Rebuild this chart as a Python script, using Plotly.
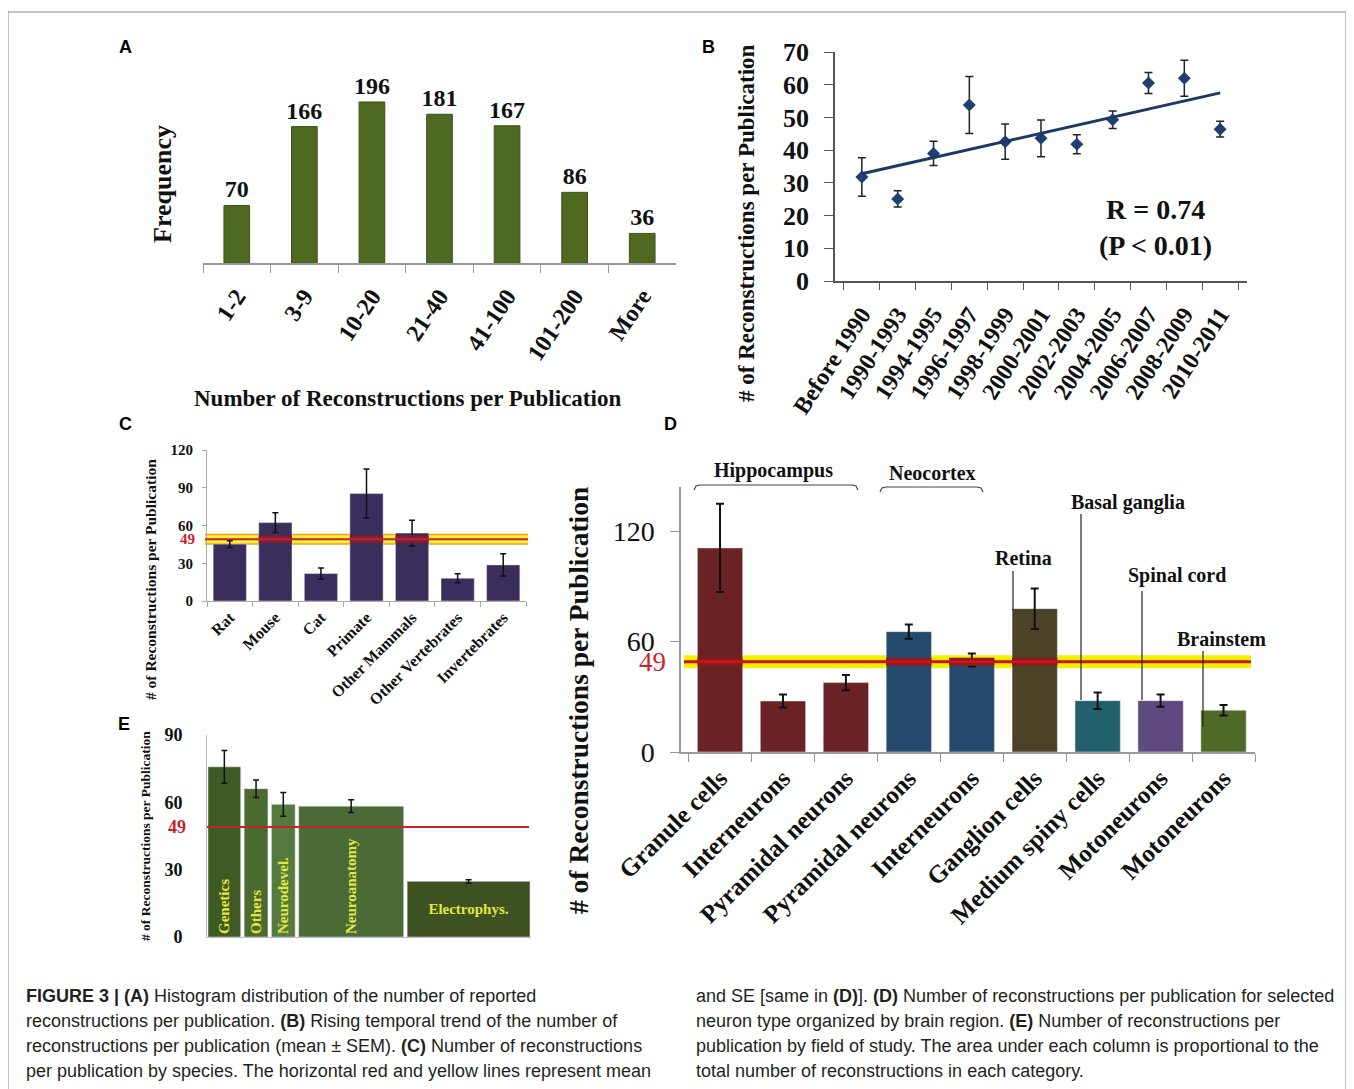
import plotly.graph_objects as go

W, H = 1346, 1081          # figure size (page body adds an 8px margin)
OFF = 8
def X(p): return (p - OFF) / W
def Y(p): return 1 - (p - OFF) / H

SERIF = "Liberation Serif"
SANS = "Liberation Sans"

# ---------------- data ----------------
# Panel A
a_bins = ["1-2", "3-9", "10-20", "21-40", "41-100", "101-200", "More"]
a_freq = [70, 166, 196, 181, 167, 86, 36]

# Panel B
b_periods = ["Before 1990", "1990-1993", "1994-1995", "1996-1997", "1998-1999", "2000-2001",
             "2002-2003", "2004-2005", "2006-2007", "2008-2009", "2010-2011"]
b_mean = [31.8, 25.1, 39.0, 53.8, 42.6, 43.6, 41.8, 49.3, 60.5, 62.0, 46.4]
b_sem = [5.9, 2.5, 3.7, 8.7, 5.4, 5.6, 2.9, 2.7, 3.2, 5.5, 2.4]
b_trend = [32.8, 57.5]          # fitted trend line at first and last period
b_stats = ["R = 0.74", "(P < 0.01)"]

# Panel C
c_species = ["Rat", "Mouse", "Cat", "Primate", "Other Mammals", "Other Vertebrates", "Invertebrates"]
c_mean = [45.2, 62.3, 21.8, 85.4, 54.0, 18.1, 28.7]
c_se = [2.7, 7.9, 4.5, 19.5, 10.2, 3.6, 8.9]

overall_mean = 49

# Panel D
d_types = ["Granule cells", "Interneurons", "Pyramidal neurons", "Pyramidal neurons", "Interneurons",
           "Ganglion cells", "Medium spiny cells", "Motoneurons", "Motoneurons"]
d_region = ["Hippocampus", "Hippocampus", "Hippocampus", "Neocortex", "Neocortex",
            "Retina", "Basal ganglia", "Spinal cord", "Brainstem"]
d_mean = [110.9, 27.7, 37.7, 65.4, 50.0, 77.9, 27.9, 27.9, 22.7]
d_se = [24.0, 3.5, 4.2, 3.9, 3.5, 11.0, 4.5, 3.3, 2.8]
d_region_colors = {"Hippocampus": "#6a2224", "Neocortex": "#264a6e", "Retina": "#4b4228",
                   "Basal ganglia": "#22606b", "Spinal cord": "#5f4a80", "Brainstem": "#4f6a26"}

# Panel E
e_fields = ["Genetics", "Others", "Neurodevel.", "Neuroanatomy", "Electrophys."]
e_mean = [75.8, 66.1, 59.1, 58.3, 24.8]
e_se = [7.3, 3.9, 5.3, 2.8, 0.7]
e_pubs = [33, 24, 24, 106, 124]   # relative number of publications (column widths)
e_colors = ["#3f5a22", "#4a6a30", "#557a3e", "#4a6b36", "#3d5220"]

# ---------------- figure ----------------
fig = go.Figure()

# A
A_W = 0.38
fig.add_trace(go.Bar(
    x=a_bins, y=a_freq, xaxis="x", yaxis="y", width=A_W,
    marker=dict(color="#4e6a20", line=dict(color="#3c5218", width=1)),
    text=[str(v) for v in a_freq], textposition="outside", cliponaxis=False, constraintext="none",
    textfont=dict(family=SERIF, size=24, color="#111", weight="bold"), showlegend=False))

# B
fig.add_trace(go.Scatter(
    x=b_periods, y=b_mean, mode="markers", xaxis="x2", yaxis="y2",
    marker=dict(symbol="diamond", size=10, color="#1f3f73"),
    error_y=dict(type="data", array=b_sem, color="#222", thickness=1.5, width=4),
    showlegend=False))
fig.add_trace(go.Scatter(
    x=[b_periods[0], b_periods[-1]], y=b_trend, mode="lines", xaxis="x2", yaxis="y2",
    line=dict(color="#1e3864", width=3), showlegend=False))

# C
C_W = 0.73
fig.add_trace(go.Bar(
    x=c_species, y=c_mean, xaxis="x3", yaxis="y3", width=C_W,
    marker=dict(color="#3a2f5c"),
    error_y=dict(type="data", array=c_se, color="#111", thickness=1.5, width=3),
    showlegend=False))

# D
D_W = 0.72
d_x = list(range(len(d_types)))
fig.add_trace(go.Bar(
    x=d_x, y=d_mean, xaxis="x4", yaxis="y4", width=D_W,
    marker=dict(color=[d_region_colors[r] for r in d_region]),
    error_y=dict(type="data", array=d_se, color="#111", thickness=2, width=4),
    showlegend=False))

# E (variable width columns)
gap = 3.5
e_x = []
start = 1.0
for w in e_pubs:
    e_x.append(start + w / 2)
    start += w + gap
e_total = start - gap + 1

fig.add_trace(go.Bar(
    x=e_x[:4], y=e_mean[:4], width=e_pubs[:4], xaxis="x5", yaxis="y5",
    marker=dict(color=e_colors[:4]),
    error_y=dict(type="data", array=e_se[:4], color="#111", thickness=1.5, width=3),
    text=e_fields[:4], textposition="inside", textangle=-90, insidetextanchor="start",
    constraintext="none",
    textfont=dict(family=SERIF, size=15, color="#e6e640", weight="bold"), showlegend=False))
fig.add_trace(go.Bar(
    x=e_x[4:], y=e_mean[4:], width=e_pubs[4:], xaxis="x5", yaxis="y5",
    marker=dict(color=e_colors[4:]),
    error_y=dict(type="data", array=e_se[4:], color="#111", thickness=1.5, width=3),
    text=e_fields[4:], textposition="inside", textangle=0, insidetextanchor="middle",
    constraintext="none",
    textfont=dict(family=SERIF, size=15, color="#e6e640", weight="bold"), showlegend=False))

# ---------------- axes ----------------
noaxis = dict(showgrid=False, zeroline=False, fixedrange=True, automargin=False)

layout_axes = dict(
    xaxis=dict(domain=[X(203), X(676)], anchor="y", type="category", categoryorder="array",
               categoryarray=a_bins, showline=True, linecolor="#999",
               linewidth=1.5, ticks="outside", tickson="boundaries", ticklen=8, tickcolor="#999",
               ticklabelstandoff=8,
               tickangle=-56, tickfont=dict(family=SERIF, size=24, color="#111", weight="bold"), **noaxis),
    yaxis=dict(domain=[Y(263), Y(74)], anchor="x", range=[0, 230], visible=False, **noaxis),

    xaxis2=dict(domain=[X(835), X(1247)], anchor="y2", type="category", categoryorder="array",
                categoryarray=b_periods, showline=True, linecolor="#555",
                linewidth=1.5, ticks="outside", tickson="boundaries", ticklen=7, tickcolor="#555",
                ticklabelstandoff=8,
                tickangle=-57, tickfont=dict(family=SERIF, size=24, color="#111", weight="bold"), **noaxis),
    yaxis2=dict(domain=[Y(281), Y(52)], anchor="x2", range=[0, 70], dtick=10, showline=True,
                linecolor="#555", linewidth=1.5, ticks="outside", ticklen=9, tickcolor="#555",
                ticklabelstandoff=10,
                tickfont=dict(family=SERIF, size=26, color="#111", weight="bold"), **noaxis),

    xaxis3=dict(domain=[X(207), X(526)], anchor="y3", type="category", categoryorder="array",
                categoryarray=c_species, showline=True, linecolor="#aaa",
                ticks="outside", tickson="boundaries", ticklen=5, tickcolor="#aaa",
                tickangle=-45, tickfont=dict(family=SERIF, size=16, color="#111", weight="bold"), **noaxis),
    yaxis3=dict(domain=[Y(601), Y(450)], anchor="x3", range=[0, 120], tickvals=[0, 30, 60, 90, 120],
                showline=True, linecolor="#aaa", ticks="outside", ticklen=4, tickcolor="#aaa",
                ticklabelstandoff=6,
                tickfont=dict(family=SERIF, size=15, color="#111", weight="bold"), **noaxis),

    xaxis4=dict(domain=[X(681), X(1255)], anchor="y4", range=[-0.62, len(d_types) - 0.5],
                tickmode="array", tickvals=d_x, ticktext=d_types, ticks="",
                minor=dict(tickmode="array", tickvals=[i - 0.5 for i in range(len(d_types) + 1)],
                           ticks="outside", ticklen=8, tickcolor="#999"),
                showline=True, linecolor="#999", linewidth=1.5,
                tickangle=-45, tickfont=dict(family=SERIF, size=25, color="#111", weight="bold"), **noaxis),
    yaxis4=dict(domain=[Y(752), Y(487)], anchor="x4", range=[0, 144], tickvals=[0, 60, 120],
                showline=True, linecolor="#999", linewidth=1.5, ticks="outside", ticklen=9, tickcolor="#999",
                ticklabelstandoff=10,
                tickfont=dict(family=SERIF, size=28, color="#111"), **noaxis),

    xaxis5=dict(domain=[X(207), X(531)], anchor="y5", range=[0, e_total], showline=True, linecolor="#bbb",
                showticklabels=False, ticks="", **noaxis),
    yaxis5=dict(domain=[Y(937), Y(735)], anchor="x5", range=[0, 90], tickvals=[0, 30, 60, 90],
                showline=True, linecolor="#bbb", ticks="", ticklabelstandoff=20,
                tickfont=dict(family=SERIF, size=18, color="#111", weight="bold"), **noaxis),
)

# ---------------- shapes ----------------
shapes = []
# outer frame
shapes.append(dict(type="rect", xref="paper", yref="paper", x0=X(8), x1=X(1346), y0=Y(1100), y1=Y(12),
                   line=dict(color="#888", width=1)))

def hline(yref, x0, x1, color, width, layer):
    shapes.append(dict(type="line", xref="paper", yref=yref, x0=X(x0), x1=X(x1),
                       y0=overall_mean, y1=overall_mean, line=dict(color=color, width=width), layer=layer))

# C mean band: yellow glow behind bars, dark red where bars cross it, red line on top
hline("y3", 205, 528, "#e9a21b", 11, "below")
hline("y3", 205, 528, "#fff03a", 8, "below")
for i, v in enumerate(c_mean):
    if v > overall_mean:
        shapes.append(dict(type="line", xref="x3", yref="y3", x0=i - C_W / 2, x1=i + C_W / 2,
                           y0=overall_mean, y1=overall_mean, line=dict(color="#7a1f35", width=8)))
hline("y3", 205, 528, "#c4222c", 2, "above")

# D mean band
hline("y4", 684, 1251, "#f6f000", 13, "below")
for i, v in enumerate(d_mean):
    if v > overall_mean:
        shapes.append(dict(type="line", xref="x4", yref="y4", x0=i - D_W / 2, x1=i + D_W / 2,
                           y0=overall_mean, y1=overall_mean, line=dict(color="#8e1a1c", width=8)))
hline("y4", 684, 1251, "#c4161c", 3, "above")

# E mean line
hline("y5", 207, 529, "#c4222c", 2, "above")


def ppath(points, closed=False):
    s = "M " + " L ".join(f"{X(x):.5f},{Y(y):.5f}" for x, y in points)
    return s + (" Z" if closed else "")

# D brackets
for x0, x1, yb in [(694, 858, 485), (880, 983, 487)]:
    pts = [(x0, yb + 5), (x0 + 2, yb + 1), (x0 + 6, yb), (x1 - 6, yb), (x1 - 2, yb + 1), (x1, yb + 5)]
    shapes.append(dict(type="path", xref="paper", yref="paper", path=ppath(pts),
                       line=dict(color="#444", width=1.2)))
# D callout lines
for x, ytop, ybot in [(1013, 571, 610), (1081, 514, 700), (1142, 591, 700), (1203, 651, 727)]:
    shapes.append(dict(type="line", xref="paper", yref="paper", x0=X(x), x1=X(x), y0=Y(ytop), y1=Y(ybot),
                       line=dict(color="#222", width=1.2)))

# ---------------- annotations ----------------
ann = []
def text(x, y, s, size, family=SERIF, bold=False, color="#111", angle=0, xanchor="center", yanchor="middle"):
    ann.append(dict(x=X(x), y=Y(y), xref="paper", yref="paper", text=s, showarrow=False,
                    textangle=angle, xanchor=xanchor, yanchor=yanchor,
                    font=dict(family=family, size=size, color=color, weight="bold" if bold else "normal")))

# panel letters
for lab, x, y in [("A", 125, 47), ("B", 708, 47), ("C", 125, 424), ("D", 670, 424), ("E", 124, 724)]:
    text(x, y, lab, 18, family=SANS, bold=True, color="#000")

# axis titles
text(163, 184, "Frequency", 26, bold=True, angle=-90)
text(407, 399, "Number of Reconstructions per Publication", 23, bold=True)
text(746, 223, "# of Reconstructions per Publication", 23, bold=True, angle=-90)
text(150, 580, "# of Reconstructions per Publication", 15.5, bold=True, angle=-90)
text(578, 701, "# of Reconstructions per Publication", 27.5, bold=True, angle=-90)
text(145, 836, "# of Reconstructions per Publication", 13.5, bold=True, angle=-90)

# B stats
text(1155, 209, b_stats[0], 28, bold=True)
text(1155, 245, b_stats[1], 28, bold=True)

# D region labels
text(773, 470, "Hippocampus", 20, bold=True)
text(932, 473, "Neocortex", 20, bold=True)
text(1023, 558, "Retina", 20, bold=True)
text(1128, 502, "Basal ganglia", 20, bold=True)
text(1177, 575, "Spinal cord", 20, bold=True)
text(1221, 639, "Brainstem", 20, bold=True)

# mean labels "49"
ann.append(dict(x=X(197), y=overall_mean, xref="paper", yref="y3", text=str(overall_mean), showarrow=False,
                xanchor="right", font=dict(family=SERIF, size=15, color="#c4222c", weight="bold")))
ann.append(dict(x=X(668), y=overall_mean, xref="paper", yref="y4", text=str(overall_mean), showarrow=False,
                xanchor="right", font=dict(family=SERIF, size=27, color="#d21f26")))
ann.append(dict(x=X(188), y=overall_mean, xref="paper", yref="y5", text=str(overall_mean), showarrow=False,
                xanchor="right", font=dict(family=SERIF, size=18, color="#c4222c", weight="bold")))

# caption
cap_left = [
    "<b>FIGURE 3 | (A)</b> Histogram distribution of the number of reported",
    "reconstructions per publication. <b>(B)</b> Rising temporal trend of the number of",
    "reconstructions per publication (mean ± SEM). <b>(C)</b> Number of reconstructions",
    "per publication by species. The horizontal red and yellow lines represent mean",
]
cap_right = [
    "and SE [same in <b>(D)</b>]. <b>(D)</b> Number of reconstructions per publication for selected",
    "neuron type organized by brain region. <b>(E)</b> Number of reconstructions per",
    "publication by field of study. The area under each column is proportional to the",
    "total number of reconstructions in each category.",
]
for i, (l, r) in enumerate(zip(cap_left, cap_right)):
    yy = 996 + 25 * i
    text(24, yy, l, 18, family=SANS, color="#231f20", xanchor="left")
    text(694, yy, r, 18, family=SANS, color="#231f20", xanchor="left")

fig.update_layout(
    width=W, height=H, margin=dict(l=0, r=0, t=0, b=0, autoexpand=False),
    paper_bgcolor="white", plot_bgcolor="rgba(0,0,0,0)",
    barmode="overlay", showlegend=False,
    shapes=shapes, annotations=ann,
    font=dict(family=SERIF, color="#111"),
    **layout_axes,
)

fig.write_html("out.html")
